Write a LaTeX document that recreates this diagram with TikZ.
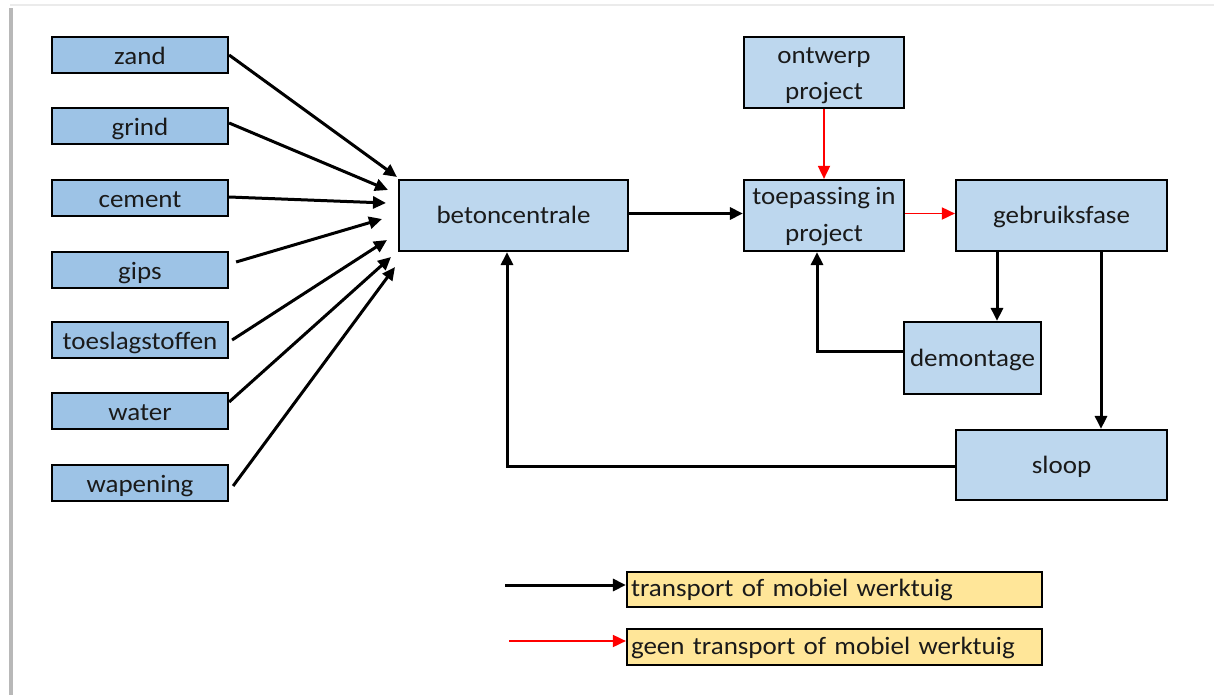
\documentclass[tikz,border=0pt]{standalone}
\usepackage{fontspec}
\setmainfont[FakeStretch=1.08,WordSpace=0.85]{Carlito}
\usetikzlibrary{arrows.meta}
\definecolor{srcblue}{HTML}{9DC3E6}
\definecolor{procblue}{HTML}{BDD7EE}
\definecolor{legyellow}{HTML}{FFE699}
\definecolor{txt}{HTML}{1A1A1A}
\tikzset{
  src/.style={draw=black, line width=2.2pt, fill=srcblue, minimum width=176pt, minimum height=36pt, inner sep=0pt, text=txt, text height=19pt, text depth=0pt},
  proc/.style={draw=black, line width=2.2pt, fill=procblue, inner sep=0pt, align=center, text=txt},
  one/.style={text height=18pt, text depth=2pt},
  legbox/.style={draw=black, line width=2.2pt, fill=legyellow, minimum width=415pt, minimum height=36pt, text width=407pt, align=left, inner xsep=4pt, inner ysep=0pt, text=txt, text height=16pt, text depth=2pt},
  blk/.style={draw=black, line width=3pt, -{Triangle[length=13pt,width=12pt]}},
  redarrow/.style={draw=red, line width=1.8pt, -{Triangle[length=13pt,width=12pt]}},
}
\begin{document}
\begin{tikzpicture}[x=1pt,y=-1pt,font=\fontsize{25}{36.7}\selectfont]
\useasboundingbox (0,0) rectangle (1214,695);
\fill[white] (0,0) rectangle (1214,695);
\fill[black!8] (10,4) rectangle (1214,6);
\fill[black!28] (9,8) rectangle (13,695);
% sources
\node[src] (zand) at (140,55) {zand};
\node[src] (grind) at (140,126) {grind};
\node[src] (cement) at (140,198) {cement};
\node[src] (gips) at (140,270) {gips};
\node[src] (toes) at (140,340) {toeslagstoffen};
\node[src] (water) at (140,411) {water};
\node[src] (wap) at (140,483) {wapening};
% process boxes
\node[proc, one, minimum width=229pt, minimum height=71pt] (beton) at (513.5,215.5) {betoncentrale};
\node[proc, minimum width=160pt, minimum height=71pt, text height=57pt, text depth=2pt] (ontwerp) at (824,72.5) {ontwerp\\project};
\node[proc, minimum width=160pt, minimum height=71pt, text height=55pt, text depth=3pt] (toep) at (824,215.5) {toepassing in\\project};
\node[proc, one, minimum width=211pt, minimum height=71pt] (gebr) at (1061.5,215.5) {gebruiksfase};
\node[proc, one, minimum width=137pt, minimum height=72pt] (demo) at (972.5,358) {demontage};
\node[proc, one, minimum width=211pt, minimum height=70pt] (sloop) at (1061.5,465) {sloop};
% legend
\node[legbox, minimum height=35pt] (leg1) at (834.5,589.5) {transport of mobiel werktuig};
\node[legbox] (leg2) at (834.5,647) {geen transport of mobiel werktuig};
% arrow end points at betoncentrale
\coordinate (tz) at (397,177);
\coordinate (tg) at (388,190);
\coordinate (tc) at (386,203);
\coordinate (tp) at (382,219);
\coordinate (tt) at (387,240);
\coordinate (tw) at (391,257);
\coordinate (tv) at (395,267);
\draw[blk] (zand.east) -- (tz);
\draw[blk] ([yshift=3pt]grind.east) -- (tg);
\draw[blk] ([yshift=1pt]cement.east) -- (tc);
\draw[blk] ([shift={(7,-8)}]gips.east) -- (tp);
\draw[blk] ([xshift=3pt]toes.east) -- (tt);
\draw[blk] ([yshift=9pt]water.east) -- (tw);
\draw[blk] ([shift={(4,3)}]wap.east) -- (tv);
% main flow
\draw[blk] ([yshift=2pt]beton.east) -- ([yshift=2pt]toep.west);
\draw[redarrow] (ontwerp.south) -- (toep.north);
\draw[redarrow] ([yshift=2pt]toep.east) -- ([yshift=2pt]gebr.west);
\draw[blk] ([xshift=-64.5pt]gebr.south) -- ([xshift=-64.5pt]gebr.south |- demo.north);
\draw[blk] ([xshift=39.5pt]gebr.south) -- ([xshift=39.5pt]gebr.south |- sloop.north);
\draw[blk] ([yshift=7pt]demo.west) -| ([xshift=-7pt]toep.south);
\draw[blk] ([yshift=-1pt]sloop.west) -| ([xshift=-6.5pt]beton.south);
% legend arrows
\coordinate (l1) at (505,585);
\coordinate (l2) at (509,641);
\draw[blk] (l1) -- (leg1.west |- l1);
\draw[redarrow] (l2) -- (leg2.west |- l2);
\end{tikzpicture}
\end{document}
